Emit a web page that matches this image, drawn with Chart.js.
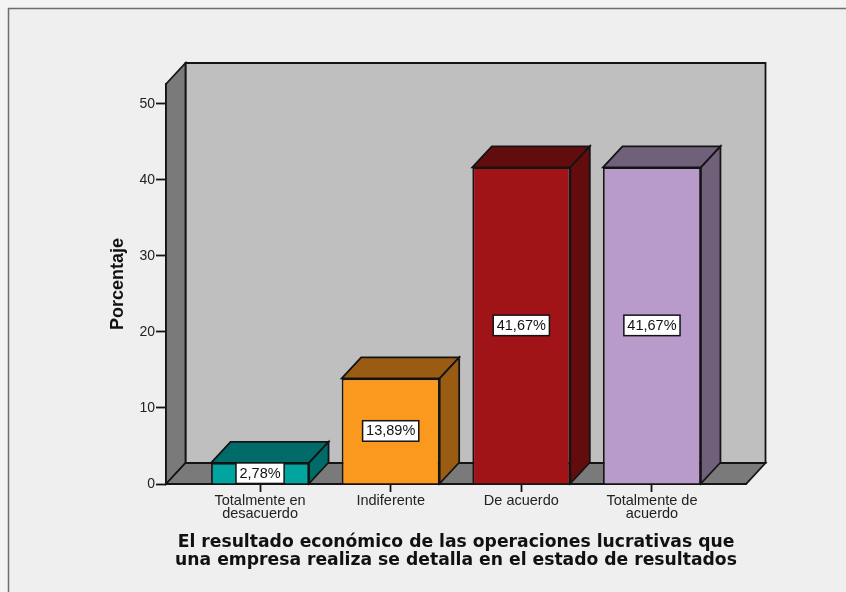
<!DOCTYPE html>
<html><head><meta charset="utf-8">
<style>html,body{margin:0;padding:0;background:#f0f0f0}canvas{display:block}</style>
<script src="https://cdn.jsdelivr.net/npm/chart.js@4/dist/chart.umd.js"></script>
</head><body><div style="width:846px;height:592px"><canvas id="c" width="846" height="592"></canvas></div>
<script>
const categories = [["Totalmente en","desacuerdo"],"Indiferente","De acuerdo",["Totalmente de","acuerdo"]];
const positions = [0,1,2,3];
const percentages = [2.78,13.89,41.67,41.67];
const yTicks = [0,10,20,30,40,50];
const frontColors = ["#00A5A0","#FB991E","#A01417","#B89BCA"];
const sideColors = ["#006B68","#9A5C12","#630C0E","#70607A"];
const DX = 19.5, DY = 21, LINE = "#141414";

function poly(ctx, pts, fill){
  ctx.beginPath();
  pts.forEach((p,i)=> i ? ctx.lineTo(p[0],p[1]) : ctx.moveTo(p[0],p[1]));
  ctx.closePath();
  ctx.fillStyle = fill; ctx.fill();
  ctx.strokeStyle = LINE; ctx.lineWidth = 1.8; ctx.stroke();
}
const scene = {
  id:"scene",
  beforeDraw(chart){
    const {ctx,width,height} = chart;
    ctx.save();
    ctx.fillStyle="#f4f4f4"; ctx.fillRect(0,0,width,height);
    ctx.fillStyle="#efefef"; ctx.fillRect(9,9,width-9,height-9);
    ctx.strokeStyle="#6e6e6e"; ctx.lineWidth=1.5;
    ctx.beginPath(); ctx.moveTo(8.5,height); ctx.lineTo(8.5,8.5); ctx.lineTo(width,8.5); ctx.stroke();
    ctx.restore();
  },
  beforeDatasetsDraw(chart){
    const {ctx,chartArea:a} = chart;
    const y0 = chart.scales.y.getPixelForValue(0);
    ctx.save();
    poly(ctx,[[a.left+DX,a.top-DY],[a.right+DX,a.top-DY],[a.right+DX,y0-DY],[a.left+DX,y0-DY]],"#BFBFBF");
    poly(ctx,[[a.left,a.top],[a.left+DX,a.top-DY],[a.left+DX,y0-DY],[a.left,y0]],"#7A7A7A");
    poly(ctx,[[a.left,y0],[a.right,y0],[a.right+DX,y0-DY],[a.left+DX,y0-DY]],"#7A7A7A");
    chart.getDatasetMeta(0).data.forEach((b,i)=>{
      const l=b.x-b.width/2,r=b.x+b.width/2;
      poly(ctx,[[l,b.y],[r,b.y],[r+DX,b.y-DY],[l+DX,b.y-DY]],sideColors[i]);
      poly(ctx,[[r,b.y],[r+DX,b.y-DY],[r+DX,b.base-DY],[r,b.base]],sideColors[i]);
    });
    ctx.restore();
  },
  afterDatasetsDraw(chart){
    const {ctx} = chart;
    ctx.save();
    ctx.font='14.5px "Liberation Sans"';
    ctx.textAlign="center"; ctx.textBaseline="middle";
    chart.getDatasetMeta(0).data.forEach((b,i)=>{
      const t=percentages[i].toFixed(2).replace(".",",")+"%";
      const w=ctx.measureText(t).width+7,h=20.5,cy=(b.y+b.base)/2;
      ctx.fillStyle="#fff"; ctx.fillRect(b.x-w/2,cy-h/2,w,h);
      ctx.strokeStyle=LINE; ctx.lineWidth=1.5; ctx.strokeRect(b.x-w/2,cy-h/2,w,h);
      ctx.fillStyle="#111"; ctx.fillText(t,b.x,cy+0.5);
    });
    ctx.restore();
  }
};
new Chart(document.getElementById("c"),{
  type:"bar",
  data:{labels:categories,datasets:[{
    label:"Porcentaje",
    data:positions.map((x,i)=>({x,y:percentages[i]})),
    backgroundColor:frontColors,borderColor:LINE,borderWidth:1.8,
    barPercentage:0.75,categoryPercentage:1
  }]},
  plugins:[scene],
  options:{
    responsive:false,animation:false,
    layout:{padding:{top:84,right:100,left:107,bottom:0}},
    plugins:{legend:{display:false},tooltip:{enabled:false}},
    scales:{
      x:{type:"linear",min:-0.72,max:3.72,offset:false,
        afterBuildTicks(s){s.ticks=positions.map(v=>({value:v}));},
        afterFit(s){s.height=108;},
        grid:{offset:false,drawOnChartArea:false,drawTicks:true,tickLength:8,tickColor:LINE,tickWidth:1.8},
        border:{display:true,color:LINE,width:1.8},
        ticks:{autoSkip:false,maxRotation:0,minRotation:0,padding:3,color:"#222",
          font:{family:"Liberation Sans",size:14.5,lineHeight:0.86},
          callback:v=>categories[v]},
        title:{display:true,text:["El resultado económico de las operaciones lucrativas que","una empresa realiza se detalla en el estado de resultados"],
          color:"#111",font:{family:"DejaVu Sans",weight:"bold",size:17.2,lineHeight:1.03},padding:{top:10,bottom:23}}
      },
      y:{min:0,max:52.63,
        afterBuildTicks(s){s.ticks=yTicks.map(v=>({value:v}));},
        afterFit(s){s.width=59;},
        grid:{drawOnChartArea:false,tickLength:10,tickColor:LINE,tickWidth:1.8},
        border:{display:true,color:LINE,width:1.8},
        ticks:{padding:1,color:"#222",font:{family:"Liberation Sans",size:14}},
        title:{display:true,text:"Porcentaje",color:"#111",font:{family:"Liberation Sans",weight:"bold",size:18},padding:{top:0,bottom:0}}
      }
    }
  }
});
</script></body></html>
